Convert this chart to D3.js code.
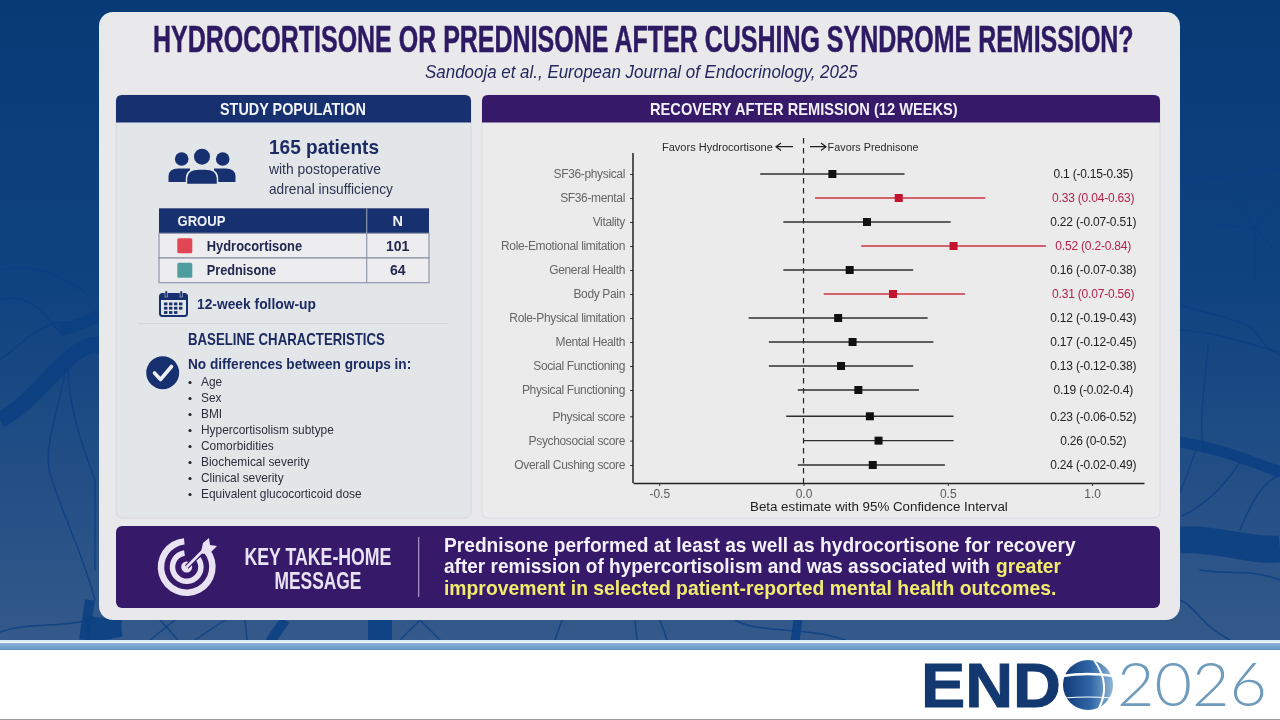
<!DOCTYPE html>
<html><head><meta charset="utf-8">
<script src="https://cdn.jsdelivr.net/npm/d3@7/dist/d3.min.js"></script>
<style>html,body{margin:0;padding:0;background:#fff;overflow:hidden}svg{display:block;filter:blur(.3px)}text{font-family:"Liberation Sans",Arial,sans-serif}</style>
</head><body><svg id="c" width="1280" height="720" viewBox="0 0 1280 720"></svg>
<script>
// ---------- data ----------
const outcomes = ["SF36-physical","SF36-mental","Vitality","Role-Emotional limitation","General Health","Body Pain","Role-Physical limitation","Mental Health","Social Functioning","Physical Functioning","Physical score","Psychosocial score","Overall Cushing score"];
const betas = [0.1,0.33,0.22,0.52,0.16,0.31,0.12,0.17,0.13,0.19,0.23,0.26,0.24];
const ciLow = [-0.15,0.04,-0.07,0.2,-0.07,0.07,-0.19,-0.12,-0.12,-0.02,-0.06,0,-0.02];
const ciHigh = [0.35,0.63,0.51,0.84,0.38,0.56,0.43,0.45,0.38,0.4,0.52,0.52,0.49];
const subscaleCount = 10;
const xTicks = [-0.5,0,0.5,1];
const groupNames = ["Hydrocortisone","Prednisone"];
const groupCounts = [101,64];
const baselineItems = ["Age","Sex","BMI","Hypercortisolism subtype","Comorbidities","Biochemical severity","Clinical severity","Equivalent glucocorticoid dose"];

// ---------- styles ----------
const NAVY="#17306f", PURPLE="#37196a", INK="#1d2b63", RED="#c2142f", REDTXT="#b3224a";
const groupFills=["#e04653","#4f9d9f"];
const svg=d3.select("#c");
const defs=svg.append("defs");
function grad(id,stops,x2=0,y2=1){const g=defs.append("linearGradient").attr("id",id).attr("x1",0).attr("y1",0).attr("x2",x2).attr("y2",y2);
  stops.forEach(s=>g.append("stop").attr("offset",s[0]).attr("stop-color",s[1]));}
grad("bg",[[0,"#083a76"],[0.45,"#0f4380"],[1,"#34598a"]]);
grad("band",[[0,"#8fb4d6"],[1,"#5f94c5"]]);
grad("globe",[[0,"#123a78"],[0.55,"#2f66a6"],[1,"#8fb6d8"]],1,0);

// text helper: when a target width is given, the text is scaled horizontally to it
function t(p,x,y,s,o={}){const e=p.append("text").text(s)
  .attr("font-size",o.size||12).attr("fill",o.fill||"#222").attr("text-anchor",o.anchor||"start");
  if(o.bold)e.attr("font-weight",700); if(o.italic)e.attr("font-style","italic");
  if(o.family)e.style("font-family",o.family); if(o.weight)e.attr("font-weight",o.weight);
  if(o.stroke)e.attr("stroke",o.fill).attr("stroke-width",o.stroke);
  const k=o.w?o.w/e.node().getComputedTextLength():1;
  e.attr("transform",`translate(${x},${y}) scale(${k},1)`); return e;}
function topRounded(x,y,w,h,r){return `M${x},${y+h}V${y+r}Q${x},${y} ${x+r},${y}H${x+w-r}Q${x+w},${y} ${x+w},${y+r}V${y+h}Z`;}

// ---------- background ----------
svg.append("rect").attr("width",1280).attr("height",642).attr("fill","url(#bg)");
const nerves=svg.append("g").attr("fill","none").attr("stroke","#0b3f82").attr("stroke-linecap","round");
const thin=["M0,270C30,262 60,275 85,292","M0,300C30,290 50,320 62,335","M0,360C25,340 45,320 68,322","M65,370C60,410 40,450 52,480C65,520 85,560 95,600","M68,370C70,410 80,440 95,480V570","M0,632C30,622 60,628 88,620",
"M1180,180C1210,178 1250,176 1280,168","M1180,305C1210,315 1250,320 1258,335C1265,348 1275,352 1280,355","M1180,330C1220,332 1250,345 1280,352","M1208,345C1205,390 1198,420 1204,452","M1196,450C1190,465 1186,480 1180,492","M1240,462C1225,485 1205,505 1182,516","M1280,475C1262,482 1250,505 1240,530","M1200,570C1225,575 1250,568 1280,580","M1180,600C1195,605 1200,625 1230,640",
"M150,640L175,620","M178,640L160,620","M195,640L225,620","M247,640L245,620","M400,640L420,620L440,640","M555,640L562,620","M637,640L635,620","M667,640L660,620","M735,620C760,635 810,625 850,642",
"M1255,228L1230,190","M1255,228L1255,280","M1255,228L1215,225","M1255,228L1280,200","M1255,228L1275,250"];
nerves.selectAll("path.t").data(thin).join("path").attr("class","t").attr("d",d=>d).attr("stroke-width",1.5).attr("opacity",.8);
const thick=[["M0,420C40,400 70,340 100,345",16],["M60,330C80,325 90,320 100,315",12],["M1180,442C1220,448 1260,465 1280,472",11],["M1180,540C1220,538 1250,552 1280,549",27],["M105,640C103,630 103,625 104,618",36],["M270,642C275,634 280,628 285,620",10],["M380,642V620",24],["M795,642L798,620",9],["M90,600L84,640",10]];
nerves.selectAll("path.k").data(thick).join("path").attr("class","k").attr("d",d=>d[0]).attr("stroke-width",d=>d[1]).attr("opacity",.85).attr("stroke-linecap","butt");

// ---------- card ----------
svg.append("rect").attr("x",99).attr("y",12).attr("width",1081).attr("height",608).attr("rx",14).attr("fill","#e9e9ec");
t(svg,153,51.5,"HYDROCORTISONE OR PREDNISONE AFTER CUSHING SYNDROME REMISSION?",{size:37,bold:1,fill:"#2e1a63",w:981,stroke:.5});
t(svg,425,78,"Sandooja et al., European Journal of Endocrinology, 2025",{size:18,italic:1,fill:"#25285e",w:433});

// ---------- left panel ----------
const L=svg.append("g");
L.append("rect").attr("x",116).attr("y",95).attr("width",355).attr("height",423).attr("rx",6).attr("fill","#e3e6e9").attr("stroke","#d5d8dc");
L.append("path").attr("d",topRounded(116,95,355,27.5,6)).attr("fill",NAVY);
t(L,220,114.5,"STUDY POPULATION",{size:16,bold:1,fill:"#f2f3f7",w:146});
// people icon
const ppl=L.append("g").attr("fill",NAVY);
[[181.7,159,6.8],[222.7,159,6.8],[202,156.7,8]].forEach(c=>ppl.append("circle").attr("cx",c[0]).attr("cy",c[1]).attr("r",c[2]));
ppl.append("path").attr("d","M168.5,182V176Q169,168.5 178,168.5H190V182Z");
ppl.append("path").attr("d","M235.5,182V176Q235,168.5 226,168.5H214V182Z");
ppl.append("path").attr("d","M186.5,184.5V178Q187,169 199,169H205Q217,169 217.5,178V184.5Z").attr("stroke","#e3e6e9").attr("stroke-width",1.5);
t(L,269,154,"165 patients",{size:20,bold:1,fill:INK,w:110});
t(L,269,174,"with postoperative",{size:14,fill:"#2c3350",w:112});
t(L,269,194,"adrenal insufficiency",{size:14,fill:"#2c3350",w:124});
// table
const tb=L.append("g");
const rowY=d3.scaleBand().domain(groupNames).range([233.3,282.7]);
tb.append("rect").attr("x",159).attr("y",208.3).attr("width",270).attr("height",25).attr("fill",NAVY);
tb.selectAll("rect.r").data(groupNames).join("rect").attr("class","r").attr("x",159).attr("y",d=>rowY(d)).attr("width",270).attr("height",rowY.bandwidth()).attr("fill","#ededf0").attr("stroke","#8f97ab").attr("stroke-width",1.2);
tb.append("line").attr("x1",366.7).attr("x2",366.7).attr("y1",208.3).attr("y2",282.7).attr("stroke","#8f97ab").attr("stroke-width",1.2);
t(tb,177.5,226,"GROUP",{size:15,bold:1,fill:"#eef0f6",w:48});
t(tb,397.7,226,"N",{size:14.5,bold:1,fill:"#eef0f6",anchor:"middle"});
tb.selectAll("rect.s").data(groupNames).join("rect").attr("class","s").attr("x",177.3).attr("y",d=>rowY(d)+rowY.bandwidth()/2-7.5).attr("width",15).attr("height",15).attr("rx",1.5).attr("fill",(d,i)=>groupFills[i]);
groupNames.forEach((g,i)=>{const y=rowY(g)+rowY.bandwidth()/2+5;
  t(tb,206.7,y,g,{size:14,bold:1,fill:"#23294e",w:g.length>10?95.5:69.5});
  t(tb,397.7,y,String(groupCounts[i]),{size:14,bold:1,fill:"#23294e",anchor:"middle"});});
// calendar icon
const cal=L.append("g");
cal.append("rect").attr("x",160).attr("y",294).attr("width",27).attr("height",22).attr("rx",2.5).attr("fill","none").attr("stroke",NAVY).attr("stroke-width",2);
cal.append("rect").attr("x",160).attr("y",294).attr("width",27).attr("height",6).attr("fill",NAVY);
[166,181].forEach(x=>cal.append("rect").attr("x",x-1).attr("y",291).attr("width",2.4).attr("height",6).attr("fill",NAVY).attr("stroke","#e3e6e9").attr("stroke-width",.5));
d3.range(4).forEach(c=>d3.range(3).forEach(r=>{ if(r===2&&c===3)return; cal.append("rect").attr("x",164+c*5).attr("y",302.5+r*4.3).attr("width",3.4).attr("height",2.8).attr("fill",NAVY);}));
t(L,197,309,"12-week follow-up",{size:15,bold:1,fill:INK,w:119});
L.append("line").attr("x1",138).attr("x2",448).attr("y1",323.7).attr("y2",323.7).attr("stroke","#cfd2d6");
t(L,188,345,"BASELINE CHARACTERISTICS",{size:16,bold:1,fill:INK,w:197});
t(L,188,369,"No differences between groups in:",{size:15.5,bold:1,fill:INK,w:223.5});
L.append("circle").attr("cx",162.7).attr("cy",372.7).attr("r",16.5).attr("fill",NAVY);
L.append("path").attr("d","M154.5,373L160.5,379.5L171.5,366.5").attr("fill","none").attr("stroke","#eef0f5").attr("stroke-width",3.6).attr("stroke-linecap","round").attr("stroke-linejoin","round");
const by=d3.scalePoint().domain(baselineItems).range([382,494]);
L.selectAll("circle.b").data(baselineItems).join("circle").attr("class","b").attr("cx",190).attr("cy",d=>by(d)+.5).attr("r",1.6).attr("fill","#222");
baselineItems.forEach(d=>t(L,201,by(d)+4.2,d,{size:11.9,fill:"#2b2f3a"}));

// ---------- forest panel ----------
const F=svg.append("g");
F.append("rect").attr("x",482).attr("y",95).attr("width",678).attr("height",423).attr("rx",6).attr("fill","#ebebeb").attr("stroke","#dcdde0");
F.append("path").attr("d",topRounded(482,95,678,27.5,6)).attr("fill",PURPLE);
t(F,650,114.5,"RECOVERY AFTER REMISSION (12 WEEKS)",{size:16,bold:1,fill:"#f2f0f7",w:308});

const x=d3.scaleLinear().domain([-0.591,1.18]).range([633,1144]);
const yA=d3.scalePoint().domain(outcomes.slice(0,subscaleCount)).range([174,390]);
const yB=d3.scalePoint().domain(outcomes.slice(subscaleCount)).range([416.3,465]);
const y=d=>yA(d)!==undefined?yA(d):yB(d);
const rows=outcomes.map((o,i)=>({o,b:betas[i],lo:ciLow[i],hi:ciHigh[i],sig:ciLow[i]>0}));

// axes
const xAxis=F.append("g").attr("transform","translate(0,483)").call(d3.axisBottom(x).tickValues(xTicks).tickSize(3).tickSizeOuter(0).tickPadding(3).tickFormat(v=>d3.format(".1f")(v).replace("−","-")));
xAxis.select(".domain").attr("stroke","#222").attr("stroke-width",1.5);
xAxis.selectAll("line").attr("stroke","#333");
xAxis.selectAll("text").attr("font-size",12).attr("fill","#5a5a5a").style("font-family",'"Liberation Sans",Arial,sans-serif');
[yA,yB].forEach(s=>{const a=F.append("g").attr("transform","translate(633,0)").call(d3.axisLeft(s).tickSize(3).tickPadding(5));
  a.select(".domain").remove();a.selectAll("line").attr("stroke","#333");
  a.selectAll("text").attr("font-size",12).attr("fill","#666").style("font-family",'"Liberation Sans",Arial,sans-serif').style("letter-spacing","-0.35px");});
F.append("line").attr("x1",633).attr("x2",633).attr("y1",153).attr("y2",483).attr("stroke","#222").attr("stroke-width",1.5);
t(F,750,511,"Beta estimate with 95% Confidence Interval",{size:13.5,fill:"#222",w:258});
// zero line
F.append("line").attr("x1",x(0)).attr("x2",x(0)).attr("y1",138).attr("y2",483).attr("stroke","#222").attr("stroke-width",1.2).attr("stroke-dasharray","5.5,4.5");
// favours
t(F,662,150.5,"Favors Hydrocortisone",{size:11.5,fill:"#2a2a2a",w:111});
t(F,827.6,150.5,"Favors Prednisone",{size:11.5,fill:"#2a2a2a",w:91});
const arrows=F.append("g").attr("fill","none").attr("stroke","#222").attr("stroke-width",1.2);
arrows.append("path").attr("d","M793,146.7H776M781,143L776,146.7L781,150.4");
arrows.append("path").attr("d","M810,146.7H826M821,143L826,146.7L821,150.4");
// marks
F.selectAll("line.ci").data(rows).join("line").attr("class","ci").attr("x1",d=>x(d.lo)).attr("x2",d=>x(d.hi)).attr("y1",d=>y(d.o)).attr("y2",d=>y(d.o)).attr("stroke",d=>d.sig?"#cc3340":"#2f2f2f").attr("stroke-width",1.4);
F.selectAll("rect.pt").data(rows).join("rect").attr("class","pt").attr("x",d=>x(d.b)-4).attr("y",d=>y(d.o)-4).attr("width",8).attr("height",8).attr("fill",d=>d.sig?RED:"#111");
rows.forEach(d=>t(F,1093.2,y(d.o)+4.2,`${d.b} (${d.lo}-${d.hi})`,{size:12,fill:d.sig?REDTXT:"#222",anchor:"middle"}).style("letter-spacing","-0.2px"));

// ---------- banner ----------
const B=svg.append("g");
B.append("rect").attr("x",116).attr("y",526).attr("width",1044).attr("height",82).attr("rx",6).attr("fill",PURPLE);
const IC="#e8e2f2";
const tg=B.append("g").attr("fill","none").attr("stroke",IC);
tg.append("path").attr("d",d3.arc()({innerRadius:22.5,outerRadius:29,startAngle:Math.PI*0.28,endAngle:Math.PI*1.97})).attr("transform","translate(186.7,567)").attr("fill",IC).attr("stroke","none");
tg.append("path").attr("d",d3.arc()({innerRadius:11.5,outerRadius:17,startAngle:Math.PI*0.3,endAngle:Math.PI*1.95})).attr("transform","translate(186.7,567)").attr("fill",IC).attr("stroke","none");
B.append("circle").attr("cx",186.7).attr("cy",567).attr("r",5.5).attr("fill",IC);
B.append("line").attr("x1",186.7).attr("y1",567).attr("x2",205).attr("y2",548.5).attr("stroke",PURPLE).attr("stroke-width",5);
B.append("line").attr("x1",186.7).attr("y1",567).attr("x2",205).attr("y2",548.5).attr("stroke",IC).attr("stroke-width",2.6);
B.append("path").attr("d","M201,552L203,543L209,538L210,545L217,546L211,552L203,554Z").attr("fill",IC);
t(B,244.5,565,"KEY TAKE-HOME",{size:23,bold:1,fill:IC,w:147});
t(B,274.5,589,"MESSAGE",{size:23,bold:1,fill:IC,w:87});
B.append("line").attr("x1",418.7).attr("x2",418.7).attr("y1",537).attr("y2",597).attr("stroke","#a99cc6").attr("stroke-width",1.2);
t(B,444,551.5,"Prednisone performed at least as well as hydrocortisone for recovery",{size:19.5,bold:1,fill:"#f3f1f7",w:632});
t(B,444,573,"after remission of hypercortisolism and was associated with",{size:19.5,bold:1,fill:"#f3f1f7",w:546});
t(B,996,573,"greater",{size:19.5,bold:1,fill:"#f0ec6e",w:65});
t(B,444,595,"improvement in selected patient-reported mental health outcomes.",{size:19.5,bold:1,fill:"#f0ec6e",w:613});

// ---------- footer ----------
svg.append("rect").attr("y",640).attr("width",1280).attr("height",80).attr("fill","#fff");
svg.append("rect").attr("y",640).attr("width",1280).attr("height",2).attr("fill","#d6ecf5");
svg.append("rect").attr("y",643).attr("width",1280).attr("height",7).attr("fill","url(#band)");
svg.append("rect").attr("y",719).attr("width",1280).attr("height",1).attr("fill","#9a9a9a");
t(svg,921,706.5,"END",{size:63,bold:1,fill:"#12386f",w:140,stroke:1});
svg.append("circle").attr("cx",1088).attr("cy",685).attr("r",25).attr("fill","url(#globe)");
svg.append("path").attr("d","M1062,676Q1088,672 1114,676").attr("fill","none").attr("stroke","#fff").attr("stroke-width",2.4);
svg.append("path").attr("d","M1064,698Q1088,696 1112,698").attr("fill","none").attr("stroke","#fff").attr("stroke-width",1.2);
svg.append("path").attr("d","M1094,660Q1112,685 1098,710").attr("fill","none").attr("stroke","#fff").attr("stroke-width",2);
t(svg,1117,706,"2026",{size:62,weight:300,fill:"#6f9bbd",w:150,family:"Lato"});
</script></body></html>
